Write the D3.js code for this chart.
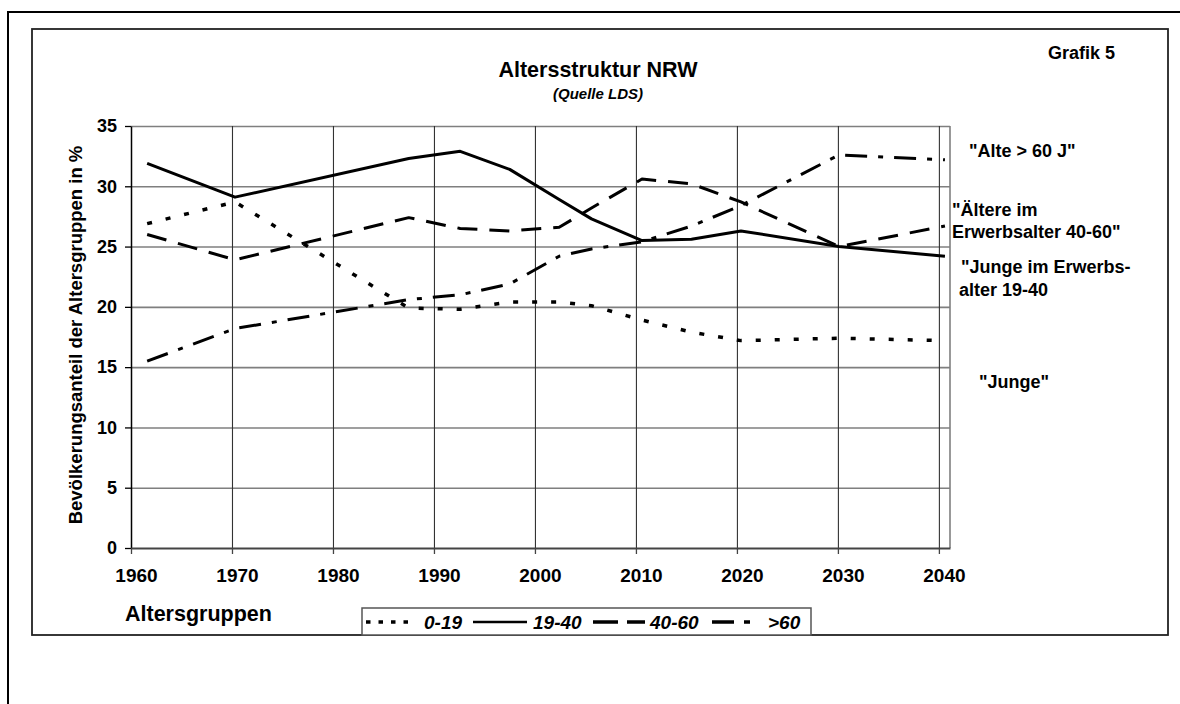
<!DOCTYPE html>
<html>
<head>
<meta charset="utf-8">
<script src="https://cdn.jsdelivr.net/npm/d3@7"></script>
<style>
    body { margin: 0; background: #fff; }
    svg { display: block; }
    text { font-family: "Liberation Sans", Arial, sans-serif; font-weight: bold; fill: #000; }
</style>
</head>
<body>
<div id="chart"></div>
<script>
// years of the data points (shared by all four series)
const years = [1961.6, 1970.3, 1987.5, 1992.6, 1997.5, 2002.4, 2005.6, 2010.6, 2015.5, 2020.4, 2030.1, 2040.6];

// Bevölkerungsanteil in % per age group
const young = [26.9, 28.7, 19.9, 19.8, 20.4, 20.4, 20.1, 18.9, 17.9, 17.2, 17.4, 17.2];   // 0-19
const adults = [31.9, 29.1, 32.3, 32.9, 31.4, 28.9, 27.3, 25.5, 25.6, 26.3, 25.0, 24.2];  // 19-40
const middle = [26.0, 23.9, 27.4, 26.5, 26.3, 26.6, 28.2, 30.6, 30.2, 28.7, 25.0, 26.7];  // 40-60
const old = [15.5, 18.2, 20.6, 21.0, 21.9, 24.2, 24.8, 25.4, 26.7, 28.4, 32.6, 32.2];     // >60

const seriesNames = ["0-19", "19-40", "40-60", ">60"];
const xTicks = [1960, 1970, 1980, 1990, 2000, 2010, 2020, 2030, 2040];
const yTicks = [0, 5, 10, 15, 20, 25, 30, 35];

const W = 1180, H = 704;
const PLOT = { LEFT: 131, RIGHT: 950, TOP: 126, BOTTOM: 548 };

const svg = d3.select("#chart").append("svg")
    .attr("width", W)
    .attr("height", H);

svg.append("rect").attr("width", W).attr("height", H).attr("fill", "#fff");

// outer frame (runs off the picture to the right and bottom)
svg.append("path")
    .attr("d", `M8,${H + 5} L8,12 L${W + 5},12`)
    .attr("fill", "none")
    .attr("stroke", "#000")
    .attr("stroke-width", 2);

// inner chart frame
svg.append("rect")
    .attr("x", 32).attr("y", 29)
    .attr("width", 1168 - 32).attr("height", 635 - 29)
    .attr("fill", "none")
    .attr("stroke", "#222")
    .attr("stroke-width", 1.8);

const x = d3.scaleLinear()
    .domain([1960, 2041.1])
    .range([PLOT.LEFT, PLOT.RIGHT]);

const y = d3.scaleLinear()
    .domain([0, 35])
    .range([PLOT.BOTTOM, PLOT.TOP]);

// horizontal grid
svg.append("g")
    .attr("transform", `translate(${PLOT.LEFT},0)`)
    .call(d3.axisLeft(y).tickValues(yTicks.filter(d => d > 0)).tickSize(-(PLOT.RIGHT - PLOT.LEFT)).tickFormat(""))
    .call(g => g.select(".domain").remove())
    .call(g => g.selectAll("line").attr("stroke", "#7f7f7f").attr("stroke-width", 1.6));

// vertical grid
svg.append("g")
    .attr("transform", `translate(0,${PLOT.BOTTOM})`)
    .call(d3.axisBottom(x).tickValues(xTicks.slice(1)).tickSize(-(PLOT.BOTTOM - PLOT.TOP)).tickFormat(""))
    .call(g => g.select(".domain").remove())
    .call(g => g.selectAll("line").attr("stroke", "#333").attr("stroke-width", 1.1));

// right edge of plot area
svg.append("line")
    .attr("x1", PLOT.RIGHT).attr("x2", PLOT.RIGHT)
    .attr("y1", PLOT.TOP).attr("y2", PLOT.BOTTOM)
    .attr("stroke", "#7f7f7f").attr("stroke-width", 1.6);

// y axis
svg.append("g")
    .attr("transform", `translate(${PLOT.LEFT},0)`)
    .call(d3.axisLeft(y).tickValues(yTicks).tickSize(6).tickPadding(8).tickSizeOuter(0))
    .call(g => g.select(".domain").attr("stroke", "#000").attr("stroke-width", 1.5))
    .call(g => g.selectAll("line").attr("stroke", "#000").attr("stroke-width", 1.3))
    .call(g => g.selectAll("text")
        .style("font-size", "18px")
        .style("font-family", "'Liberation Sans', Arial, sans-serif")
        .style("font-weight", "bold")
        .attr("fill", "#000"));

// x axis
svg.append("g")
    .attr("transform", `translate(0,${PLOT.BOTTOM})`)
    .call(d3.axisBottom(x).tickValues(xTicks).tickSize(6).tickSizeOuter(0).tickFormat(d3.format("d")))
    .call(g => g.select(".domain").attr("stroke", "#444").attr("stroke-width", 2))
    .call(g => g.selectAll("line").attr("stroke", "#444").attr("stroke-width", 1.3))
    .call(g => g.selectAll("text")
        .attr("y", 34).attr("dy", 0).attr("dx", 5)
        .style("font-size", "19px")
        .style("font-family", "'Liberation Sans', Arial, sans-serif")
        .style("font-weight", "bold")
        .attr("fill", "#000"));

// series
const styles = [
    { values: young, dash: "5,14", width: 3.5 },
    { values: adults, dash: null, width: 3 },
    { values: middle, dash: "20,12", width: 3 },
    { values: old, dash: "22,11,5,11", width: 3 }
];

const line = d3.line()
    .x(d => x(d[0]))
    .y(d => y(d[1]));

styles.forEach(s => {
    svg.append("path")
        .datum(years.map((yr, i) => [yr, s.values[i]]))
        .attr("d", line)
        .attr("fill", "none")
        .attr("stroke", "#000")
        .attr("stroke-width", s.width)
        .attr("stroke-linejoin", "round")
        .attr("stroke-dasharray", s.dash);
});

// titles
svg.append("text")
    .attr("x", 598).attr("y", 77)
    .attr("text-anchor", "middle")
    .style("font-size", "21.5px")
    .text("Altersstruktur NRW");

svg.append("text")
    .attr("x", 598).attr("y", 99)
    .attr("text-anchor", "middle")
    .style("font-size", "15px")
    .style("font-style", "italic")
    .text("(Quelle LDS)");

svg.append("text")
    .attr("x", 1048).attr("y", 59)
    .style("font-size", "18px")
    .text("Grafik 5");

svg.append("text")
    .attr("transform", "translate(81.5,335) rotate(-90)")
    .attr("text-anchor", "middle")
    .style("font-size", "18.5px")
    .text("Bevölkerungsanteil der Altersgruppen in %");

svg.append("text")
    .attr("x", 125).attr("y", 621)
    .style("font-size", "21.5px")
    .text("Altersgruppen");

// labels to the right of the plot
const sideLabels = [
    { x: 969, y: 157, t: "\"Alte > 60 J\"" },
    { x: 952, y: 216, t: "\"Ältere im" },
    { x: 952, y: 238, t: "Erwerbsalter 40-60\"" },
    { x: 961, y: 273, t: "\"Junge im Erwerbs-" },
    { x: 959, y: 296, t: "alter 19-40" },
    { x: 979, y: 388, t: "\"Junge\"" }
];
svg.selectAll("text.side")
    .data(sideLabels)
    .join("text")
    .attr("class", "side")
    .attr("x", d => d.x).attr("y", d => d.y)
    .style("font-size", "18px")
    .text(d => d.t);

// legend
const legend = svg.append("g").attr("class", "legend");
legend.append("rect")
    .attr("x", 362).attr("y", 608)
    .attr("width", 811 - 362).attr("height", 27)
    .attr("fill", "#fff")
    .attr("stroke", "#555")
    .attr("stroke-width", 1.5);

const legendLayout = [
    { x1: 366, x2: 409, tx: 424, dash: "4.5,8", width: 3.5 },
    { x1: 473, x2: 527, tx: 533, dash: null, width: 2.5 },
    { x1: 593, x2: 645, tx: 650, dash: "25,9", width: 3.5 },
    { x1: 712, x2: 751, tx: 768, dash: "22,10,6,10", width: 3.5 }
];
legendLayout.forEach((l, i) => {
    legend.append("line")
        .attr("x1", l.x1).attr("x2", l.x2)
        .attr("y1", 622).attr("y2", 622)
        .attr("stroke", "#000")
        .attr("stroke-width", l.width)
        .attr("stroke-dasharray", l.dash);
    legend.append("text")
        .attr("x", l.tx).attr("y", 629)
        .style("font-size", "19px")
        .style("font-style", "italic")
        .text(seriesNames[i]);
});
</script>
</body>
</html>
